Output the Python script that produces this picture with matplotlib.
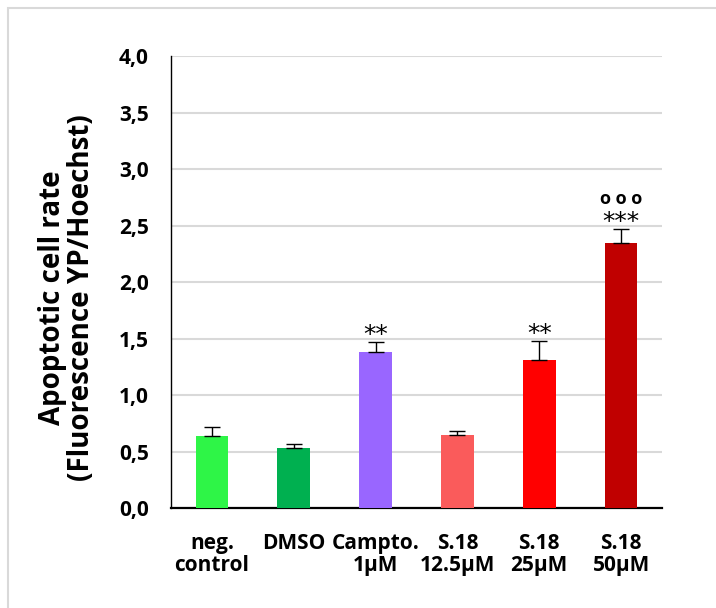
import matplotlib
matplotlib.use("Agg")
import matplotlib.pyplot as plt
from matplotlib.patches import Rectangle

plt.rcParams['font.family'] = ['Open Sans', 'DejaVu Sans']
plt.rcParams['font.weight'] = 'bold'

categories = ["neg.\ncontrol", "DMSO", "Campto.\n1µM", "S.18\n12.5µM", "S.18\n25µM", "S.18\n50µM"]
values = [0.64, 0.535, 1.385, 0.65, 1.315, 2.35]
errors = [0.08, 0.03, 0.088, 0.038, 0.165, 0.12]
colors = ["#2EF547", "#00B050", "#9966FF", "#FA5B5B", "#FF0000", "#C00000"]
signif = ["", "", "**", "", "**", "***"]
signif2 = ["", "", "", "", "", "o o o"]
yticks = [0.0, 0.5, 1.0, 1.5, 2.0, 2.5, 3.0, 3.5, 4.0]

fig = plt.figure(figsize=(7.16, 6.08), dpi=100)
fig.patches.append(Rectangle((8 / 716, -0.1), 1.2, (600 + 60.8) / 608, transform=fig.transFigure,
                             fill=False, edgecolor="#d9d9d9", linewidth=1.5))
ax = fig.add_axes([171 / 716, 1 - 508.3 / 608, (662 - 171) / 716, (508.3 - 56.3) / 608])

x = range(len(categories))
ax.bar(x, values, width=0.4, color=colors, zorder=3)
ax.errorbar(x, values, yerr=[[0] * len(errors), errors], fmt="none", ecolor="black",
            elinewidth=1.0, capsize=5.5, capthick=1.0, zorder=4)

# significance markers above the error bars
for i, (v, e, s) in enumerate(zip(values, errors, signif)):
    if s:
        ax.annotate(s, xy=(i, v + e), xytext=(0, 0), textcoords="offset points",
                    ha="center", va="baseline", fontsize=18, fontweight="normal",
                    family=["DejaVu Sans"])
for i, (v, e, s) in enumerate(zip(values, errors, signif2)):
    if s:
        ax.annotate(s, xy=(i, v + e), xytext=(0, 18), textcoords="offset points",
                    ha="center", va="baseline", fontsize=13, fontweight="bold")

ax.set_xlim(-0.5, 5.5)
ax.set_ylim(0, 4.0)
ax.set_yticks(yticks)
ax.set_yticklabels([f"{t:.1f}".replace(".", ",") for t in yticks])
ax.set_xticks(list(x))
ax.set_xticklabels(categories, linespacing=1.05)
ax.tick_params(axis="y", length=0, pad=16, labelsize=15)
ax.tick_params(axis="x", length=0, pad=18, labelsize=15)
ax.yaxis.grid(True, color="#d9d9d9", linewidth=1.5, zorder=0)
ax.set_axisbelow(True)
for side in ["top", "right"]:
    ax.spines[side].set_visible(False)
ax.spines["left"].set_linewidth(1.0)
ax.spines["bottom"].set_linewidth(1.6)

fig.text(67 / 716, 1 - 298 / 608, "Apoptotic cell rate\n(Fluorescence YP/Hoechst)",
         rotation=90, ha="center", va="center", fontsize=20, fontweight="bold",
         linespacing=1.0, multialignment="center")

fig.savefig("out.png", dpi=100)
